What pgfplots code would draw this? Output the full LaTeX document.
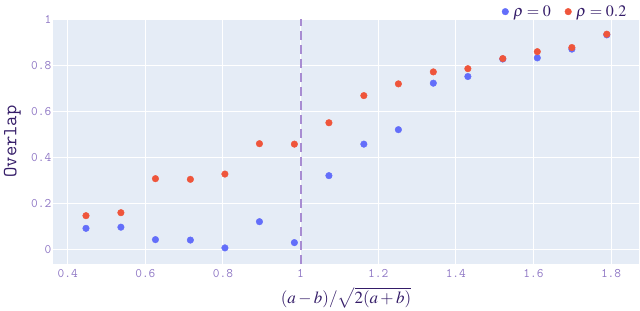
\documentclass[border=0pt]{standalone}
\usepackage{mathptmx}
\usepackage{fontspec}
\setmainfont{Liberation Serif}
\usepackage{pgfplots}
\pgfplotsset{compat=1.18}
\definecolor{bgc}{HTML}{E5ECF6}
\definecolor{pblue}{HTML}{636EFA}
\definecolor{pred}{HTML}{EF553B}
\definecolor{tickc}{RGB}{142,118,196}
\definecolor{titc}{RGB}{52,28,104}
\definecolor{dashc}{RGB}{168,140,210}
\begin{document}
\begin{tikzpicture}
\useasboundingbox (-53bp,-47bp) rectangle (587bp,264bp);
\begin{axis}[
  at={(0,0)}, anchor=south west,
  scale only axis, width=586bp, height=245bp,
  xmin=0.362, xmax=1.872, ymin=-0.061, ymax=1.004,
  axis background/.style={fill=bgc},
  axis line style={draw=none},
  major tick length=0pt,
  grid=major, major grid style={white, line width=1bp},
  xtick={0.4,0.6,...,1.8}, ytick={0,0.2,...,1},
  xticklabels={0.4,0.6,0.8,1,1.2,1.4,1.6,1.8},
  yticklabels={0,0.2,0.4,0.6,0.8,1},
  tick label style={font=\fontsize{13bp}{13bp}\ttfamily, text=tickc},
  yticklabel style={inner sep=1.5bp},
  xticklabel style={inner sep=0bp, yshift=-5.5bp},
  xlabel={$(a-b)/\sqrt{2(a+b)}$},
  xlabel style={font=\fontsize{17bp}{17bp}\selectfont, text=titc, at={(axis description cs:0.5,0)}, anchor=north, yshift=-23bp, inner sep=0pt},
  ylabel={Overlap},
  ylabel style={font=\fontsize{20bp}{20bp}\ttfamily, text=titc, at={(axis description cs:0,0.5)}, anchor=south, xshift=0bp, yshift=32bp, inner sep=0pt},
  legend columns=2,
  legend style={draw=none, fill=none, at={(axis description cs:0.982,1.03)}, anchor=east, inner sep=0pt,
    font=\fontsize{16bp}{16bp}\selectfont, text=titc,
    nodes={inner ysep=0pt},
    /tikz/every even column/.append style={column sep=12bp}},
  legend cell align=left,
  clip=false,
]
\addplot[only marks, mark=*, mark size=3.3bp, color=pblue, mark options={draw=pblue,fill=pblue}] coordinates {
(0.447,0.094) (0.537,0.099) (0.626,0.045) (0.716,0.043) (0.805,0.009)
(0.894,0.123) (0.984,0.032) (1.073,0.323) (1.163,0.460) (1.252,0.523)
(1.342,0.725) (1.431,0.754) (1.521,0.830) (1.610,0.835) (1.699,0.873)
(1.789,0.935)
};
\addlegendentry{\,$\rho=0$}
\addplot[only marks, mark=*, mark size=3.3bp, color=pred, mark options={draw=pred,fill=pred}] coordinates {
(0.447,0.149) (0.537,0.162) (0.626,0.310) (0.716,0.307) (0.805,0.330)
(0.894,0.462) (0.984,0.460) (1.073,0.553) (1.163,0.671) (1.252,0.722)
(1.342,0.774) (1.431,0.788) (1.521,0.832) (1.610,0.862) (1.699,0.880)
(1.789,0.938)
};
\addlegendentry{\,$\rho=0.2$}
\addplot[dashc, line width=2bp, dash pattern=on 9bp off 5bp, forget plot] coordinates {(1,-0.061) (1,1.004)};
\end{axis}
\end{tikzpicture}
\end{document}
